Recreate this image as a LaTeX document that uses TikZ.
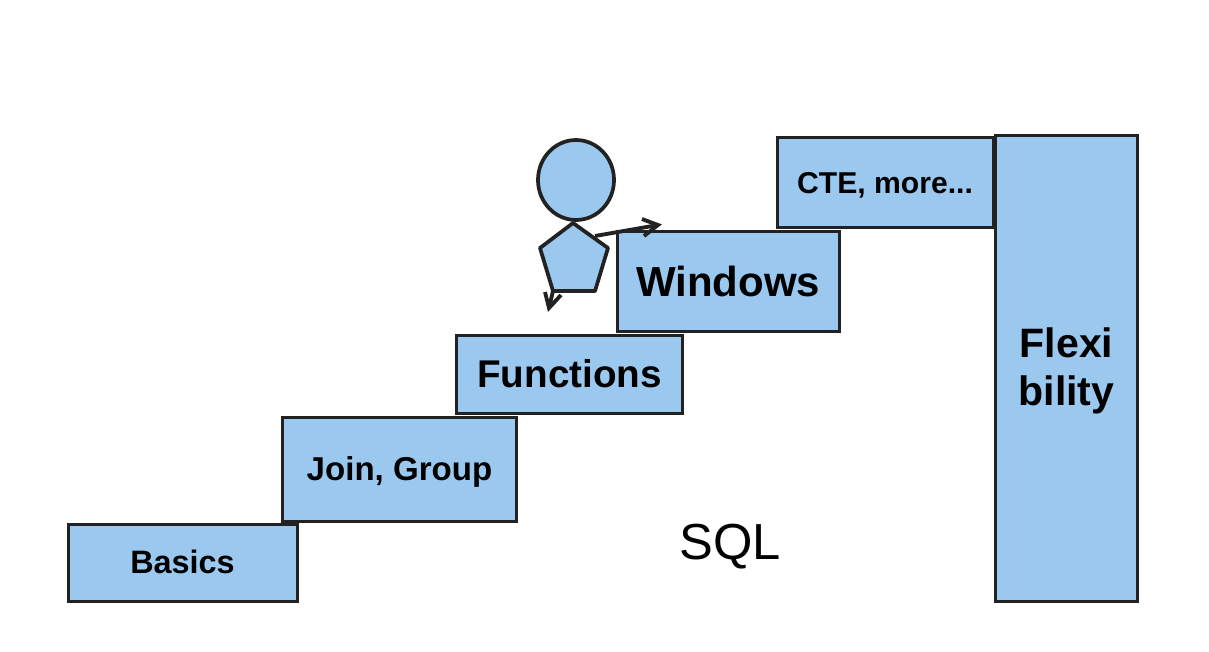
\documentclass[tikz,border=0pt]{standalone}
\usepackage{fontspec}
\setmainfont{Liberation Sans}
\usetikzlibrary{shapes.geometric}
\definecolor{fillb}{HTML}{9BC8EF}
\definecolor{linec}{HTML}{222222}
\tikzset{
 stepbox/.style={draw=linec,fill=fillb,line width=2.25pt,inner sep=0pt,text=black,align=center},
 bodyshape/.style={draw=linec,fill=fillb,line width=2.8pt},
 limb/.style={draw=linec,line width=2.9pt}
}
\begin{document}
\begin{tikzpicture}[x=0.75pt,y=-0.75pt]
\useasboundingbox (0,0) rectangle (1209,651);
\fill[white] (0,0) rectangle (1209,651);
\node[stepbox,minimum width=171.75pt,minimum height=57.75pt,font=\bfseries\fontsize{24.3}{27}\selectfont] (basics) at (182.5,563) {\raisebox{-8pt}[0pt][0pt]{Basics}};
\node[stepbox,minimum width=175pt,minimum height=78pt,font=\bfseries\fontsize{24.8}{27}\selectfont] (join) at (399.5,469) {\raisebox{-8.4pt}[0pt][0pt]{Join, Group}};
\node[stepbox,minimum width=170pt,minimum height=58.5pt,font=\bfseries\fontsize{29}{32}\selectfont] (func) at (569.5,374) {Functions};
\node[stepbox,minimum width=166.5pt,minimum height=75pt,font=\bfseries\fontsize{31.5}{36}\selectfont] (win) at (728,281) {Windows};
\node[stepbox,minimum width=162pt,minimum height=67pt,font=\bfseries\fontsize{22.6}{24}\selectfont] (cte) at (885,182.5) {\raisebox{-8.6pt}[0pt][0pt]{CTE, more...}};
\node[stepbox,minimum width=106pt,minimum height=349.5pt,font=\bfseries\fontsize{30.8}{36}\selectfont] (flex) at (1066.5,368) {\raisebox{-9.5pt}[0pt][0pt]{\begin{tabular}{@{}c@{}}Flexi\\bility\end{tabular}}};
\node[font=\fontsize{38}{42}\selectfont,text=black,inner sep=0pt] (sql) at (730,547) {SQL};
\node[bodyshape,ellipse,minimum width=57pt,minimum height=60pt,inner sep=0pt] (head) at (576,180) {};
\path[bodyshape,line join=round] (573,223) -- (608,248) -- (595,291) -- (553,291) -- (540,248) -- cycle;
\coordinate (handr) at (658,225);
\coordinate (handl) at (549,308);
\coordinate (sr) at (595,236);
\coordinate (sl) at (553,291);
\coordinate (br1) at (642,219);
\coordinate (br2) at (644,236);
\coordinate (bl1) at (545,292);
\coordinate (bl2) at (561,295);
\draw[limb] (sr) -- (handr);
\draw[limb] (br1) -- (handr) -- (br2);
\draw[limb] (sl) -- (handl);
\draw[limb] (bl1) -- (handl) -- (bl2);
\end{tikzpicture}
\end{document}
